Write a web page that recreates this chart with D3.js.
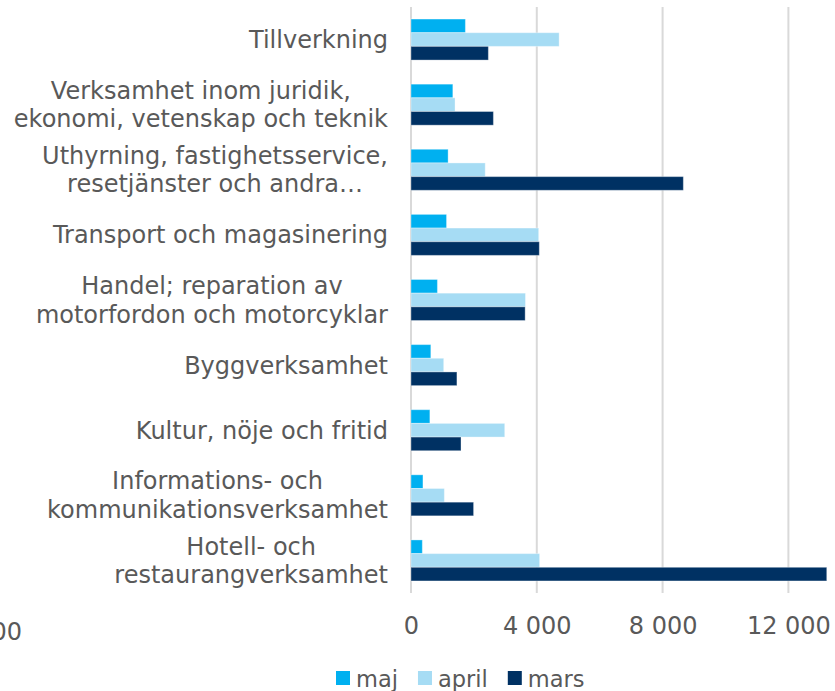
<!DOCTYPE html>
<html>
<head>
<meta charset="utf-8">
<script src="https://cdn.jsdelivr.net/npm/d3@7"></script>
<style>
  html, body { margin: 0; padding: 0; background: #fff; }
  svg { display: block; }
</style>
</head>
<body>
<svg id="chart" width="835" height="691"></svg>
<script>
// Categories, top to bottom ("\n" = line break in the label)
const categories = [
  "Tillverkning",
  "Verksamhet inom juridik,\nekonomi, vetenskap och teknik",
  "Uthyrning, fastighetsservice,\nresetjänster och andra…",
  "Transport och magasinering",
  "Handel; reparation av\nmotorfordon och motorcyklar",
  "Byggverksamhet",
  "Kultur, nöje och fritid",
  "Informations- och\nkommunikationsverksamhet",
  "Hotell- och\nrestaurangverksamhet"
];
const seriesNames = ["maj", "april", "mars"];
const maj = [1730, 1330, 1180, 1130, 840, 630, 600, 380, 360];
const april = [4710, 1400, 2360, 4060, 3640, 1040, 2980, 1060, 4090];
const mars = [2460, 2620, 8660, 4080, 3630, 1460, 1590, 1990, 13220];
const tickValues = [0, 4000, 8000, 12000];

const COLORS = { maj: "#00b0f0", april: "#a6dcf4", mars: "#003163" };
const TEXT = "#595959";
const GRID = "#d9d9d9";
const FONT = "'DejaVu Sans', Verdana, sans-serif";
const FONT_SIZE = 24;
const LEGEND_FONT_SIZE = 22.5;
const LINE_HEIGHT = 28.5;

const PLOT = { left: 411, right: 827.7, top: 7, bottom: 593 };
const LABEL_RIGHT = 388;

const svg = d3.select("#chart");
const values = { maj, april, mars };

const x = d3.scaleLinear()
  .domain([0, 13250])
  .range([PLOT.left, PLOT.right]);
const y = d3.scaleBand()
  .domain(categories)
  .range([PLOT.top, PLOT.bottom])
  .paddingInner(0.37)
  .paddingOuter(0.185);
const ySeries = d3.scaleBand()
  .domain(seriesNames)
  .range([0, y.bandwidth()]);

const locale = d3.formatLocale({ decimal: ",", thousands: " ", grouping: [3], currency: ["", ""] });
const fmt = locale.format(",");

// Gridlines
svg.append("g")
  .selectAll("line")
  .data(tickValues)
  .join("line")
  .attr("x1", d => x(d))
  .attr("x2", d => x(d))
  .attr("y1", PLOT.top)
  .attr("y2", PLOT.bottom)
  .attr("stroke", GRID)
  .attr("stroke-width", 2);

// X axis labels
const xAxis = svg.append("g")
  .attr("transform", `translate(0, ${PLOT.bottom})`)
  .call(d3.axisBottom(x).tickValues(tickValues).tickFormat(fmt).tickSize(0).tickPadding(24));
xAxis.select(".domain").remove();
xAxis.selectAll("text")
  .attr("fill", TEXT)
  .attr("font-family", FONT)
  .attr("font-size", FONT_SIZE);

// Fragment of a cut-off label at the bottom left edge
svg.append("text")
  .text("4 000")
  .attr("x", 22)
  .attr("y", 640)
  .attr("text-anchor", "end")
  .attr("fill", TEXT)
  .attr("font-family", FONT)
  .attr("font-size", FONT_SIZE);

// Bars
const groups = svg.append("g")
  .selectAll("g")
  .data(categories)
  .join("g")
  .attr("transform", d => `translate(0, ${y(d)})`);
groups.selectAll("rect")
  .data((_, i) => seriesNames.map(s => ({ s, v: values[s][i] })))
  .join("rect")
  .attr("x", x(0))
  .attr("y", d => ySeries(d.s))
  .attr("width", d => x(d.v) - x(0))
  .attr("height", ySeries.bandwidth())
  .attr("fill", d => COLORS[d.s])
  .attr("stroke", "#fff")
  .attr("stroke-opacity", 0.35)
  .attr("stroke-width", 1);

// Category labels (multi-line, lines centred within a right-aligned block)
const labels = svg.append("g")
  .attr("font-family", FONT)
  .attr("font-size", FONT_SIZE)
  .attr("fill", TEXT);
categories.forEach(cat => {
  const lines = cat.split("\n");
  const cy = y(cat) + y.bandwidth() / 2;
  const t = labels.append("text").attr("text-anchor", "middle");
  const spans = lines.map((line, j) =>
    t.append("tspan")
      .text(line)
      .attr("y", cy + (j - (lines.length - 1) / 2) * LINE_HEIGHT)
      .attr("dy", "0.35em")
  );
  const maxW = d3.max(spans, s => s.node().getComputedTextLength());
  spans.forEach(s => s.attr("x", LABEL_RIGHT - maxW / 2));
});

// Legend
const legend = svg.append("g")
  .attr("font-family", FONT)
  .attr("font-size", LEGEND_FONT_SIZE)
  .attr("fill", TEXT);
let lx = 336;
seriesNames.forEach(s => {
  legend.append("rect")
    .attr("x", lx)
    .attr("y", 671)
    .attr("width", 14)
    .attr("height", 14)
    .attr("fill", COLORS[s]);
  const t = legend.append("text")
    .text(s)
    .attr("x", lx + 20)
    .attr("y", 687);
  lx += 20 + t.node().getComputedTextLength() + 20;
});
</script>
</body>
</html>
